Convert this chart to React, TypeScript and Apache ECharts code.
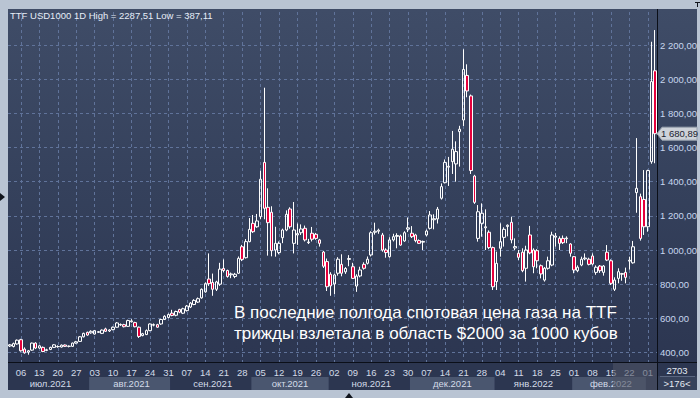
import React, { useEffect, useRef } from 'react';
import * as echarts from 'echarts';

const FONT = '"Liberation Sans", Arial, sans-serif';
const SMALL = 9.5;

const titleText = 'TTF USD1000 1D High = 2287,51 Low = 387,11';
const noteLines = [
  'В последние полгода спотовая цена газа на TTF',
  'трижды взлетала в область $2000 за 1000 кубов',
];
const monthNames = ['янв', 'фев', 'мар', 'апр', 'май', 'июн', 'июл', 'авг', 'сен', 'окт', 'ноя', 'дек'];
const yTickValues = [400, 600, 800, 1000, 1200, 1400, 1600, 1800, 2000, 2200];
const startDate = '2021-07-01';
const endDate = '2022-03-03';
const barCountText = '2703';
const visibleCountText = '>176<';

const openValues = [
  438, 435, 450, 475, 420, 402, 414, 455, 426, 430, 412, 418, 430, 434, 432, 444, 436, 436, 455, 465,
  492, 518, 515, 508, 518, 512, 538, 526, 534, 548, 561, 563, 553, 580, 575, 548, 499, 505, 528, 560,
  563, 567, 593, 605, 630, 618, 652, 630, 645, 666, 681, 695, 720, 755, 830, 810, 770, 800, 892, 880,
  855, 845, 864, 1019, 955, 1049, 1156, 1136, 1195, 1513, 1250, 1221, 1000, 985, 1072, 1117, 1240, 1039, 1088, 1101,
  1127, 1043, 1098, 1092, 1059, 988, 932, 858, 801, 864, 916, 872, 945, 902, 789, 848, 916, 922, 971, 1104,
  1110, 1088, 1000, 961, 1059, 1080, 1082, 1053, 1122, 1098, 1088, 1055, 1046, 1088, 1127, 1177, 1182, 1303, 1394, 1485,
  1517, 1504, 1693, 1761, 2022, 1902, 1433, 1068, 1156, 1130, 1104, 1014, 815, 1010, 1074, 1138, 1162, 1012, 981, 987,
  893, 1088, 1000, 996, 908, 824, 893, 912, 1075, 1068, 1068, 1066, 1035, 961, 879, 912, 948, 946, 965, 869,
  906, 869, 987, 937, 770, 834, 858, 869, 935, 925, 1336, 1312, 1296, 1136, 1517, 2049,
];
const closeValues = [
  445, 452, 472, 410, 398, 410, 455, 426, 439, 406, 416, 430, 445, 435, 443, 436, 437, 455, 463, 492,
  512, 502, 524, 528, 522, 531, 524, 532, 548, 573, 564, 551, 587, 585, 551, 494, 510, 528, 567, 563,
  548, 593, 612, 622, 617, 640, 636, 656, 672, 689, 705, 715, 770, 803, 803, 770, 813, 888, 880, 845,
  860, 858, 951, 945, 1049, 1121, 1107, 1170, 1414, 1244, 1160, 996, 1039, 1039, 1117, 1209, 1136, 1117, 1096, 1123,
  1059, 1047, 1063, 1068, 1039, 905, 785, 790, 854, 946, 864, 892, 950, 834, 847, 883, 893, 946, 1101, 1110,
  1116, 1000, 985, 1059, 1078, 1085, 1029, 1101, 1130, 1078, 1055, 1039, 1050, 1111, 1205, 1183, 1239, 1371, 1513, 1490,
  1590, 1576, 1707, 2057, 1931, 1465, 1279, 1224, 1215, 1136, 1014, 785, 922, 1049, 1121, 1145, 1059, 1020, 957, 879,
  1000, 983, 902, 937, 860, 893, 937, 1088, 1082, 1039, 1043, 1070, 981, 883, 899, 946, 953, 916, 918, 899,
  879, 906, 941, 805, 824, 873, 862, 840, 940, 1019, 1361, 1068, 1136, 1465, 1986, 1680.89,
];
const lowValues = [
  432, 430, 446, 405, 393, 387.11, 410, 420, 422, 402, 408, 414, 427, 428, 429, 432, 430, 433, 452, 462,
  488, 498, 510, 505, 514, 508, 520, 520, 530, 545, 556, 547, 550, 575, 547, 485, 495, 502, 525, 553,
  545, 562, 590, 600, 612, 612, 630, 625, 640, 660, 677, 690, 715, 750, 790, 732, 760, 790, 870, 838,
  835, 835, 860, 935, 950, 1045, 1100, 1130, 1180, 1180, 967, 963, 961, 975, 1040, 1110, 1125, 980, 1030, 1088,
  1050, 1035, 1050, 1060, 1020, 895, 760, 732, 742, 850, 846, 860, 905, 830, 755, 840, 885, 915, 962, 1090,
  1095, 990, 955, 955, 1050, 1010, 1025, 1048, 1105, 1070, 1045, 1035, 1000, 1080, 1120, 1121, 1155, 1295, 1390, 1375,
  1445, 1400, 1488, 1726, 1894, 1445, 1270, 1049, 1078, 1000, 1005, 766, 766, 961, 1020, 1080, 1039, 1000, 941, 870,
  815, 975, 864, 893, 834, 815, 885, 905, 1020, 1000, 1035, 1040, 961, 864, 870, 905, 940, 910, 910, 855,
  866, 850, 935, 795, 760, 805, 820, 805, 885, 920, 1218, 1055, 1088, 1107, 1505, 1508,
];
const highValues = [
  450, 458, 476, 480, 430, 415, 458, 460, 443, 435, 422, 434, 449, 442, 447, 447, 441, 458, 468, 496,
  516, 522, 530, 532, 526, 535, 545, 536, 552, 578, 570, 568, 592, 595, 580, 552, 515, 535, 570, 570,
  568, 597, 618, 628, 650, 645, 656, 662, 678, 695, 712, 722, 775, 810, 980, 862, 820, 925, 945, 885,
  868, 866, 962, 1030, 1064, 1187, 1205, 1211, 1464, 1950, 1361, 1256, 1136, 1050, 1125, 1232, 1250, 1281, 1155, 1150,
  1143, 1065, 1135, 1100, 1065, 995, 950, 870, 862, 958, 975, 900, 970, 925, 858, 902, 928, 962, 1110, 1160,
  1125, 1100, 1010, 1075, 1095, 1098, 1090, 1110, 1190, 1140, 1095, 1062, 1055, 1120, 1228, 1209, 1252, 1390, 1530, 1545,
  1697, 1636, 1727, 2175, 2087, 1910, 1440, 1263, 1273, 1238, 1115, 1020, 990, 1156, 1133, 1150, 1195, 1068, 1000, 1010,
  1025, 1141, 1010, 1005, 915, 900, 961, 1107, 1100, 1080, 1085, 1080, 1040, 965, 910, 961, 980, 955, 980, 910,
  912, 912, 1029, 945, 840, 893, 866, 897, 961, 1053, 1655, 1330, 1468, 1470, 2219, 2287.51,
];

function buildTradingDays(start: string, end: string): string[] {
  const out: string[] = [];
  const d = new Date(start + 'T00:00:00Z');
  const e = new Date(end + 'T00:00:00Z');
  while (d <= e) {
    const wd = d.getUTCDay();
    if (wd !== 0 && wd !== 6) out.push(d.toISOString().slice(0, 10));
    d.setUTCDate(d.getUTCDate() + 1);
  }
  return out;
}

const dates = buildTradingDays(startDate, endDate);

function fmtNum(v: number): string {
  const s = v.toFixed(2);
  const [ip, dp] = s.split('.');
  return ip.replace(/\B(?=(\d{3})+(?!\d))/g, ' ') + ',' + dp;
}

export default function App() {
  const ref = useRef<HTMLDivElement>(null);

  useEffect(() => {
    if (!ref.current) return;
    const chart = echarts.init(ref.current, undefined, { renderer: 'svg' });

    const isTue = dates.map((d) => new Date(d + 'T00:00:00Z').getUTCDay() === 2);
    const monthStart = new Set<number>();
    const monthMid = new Set<number>();
    const starts: number[] = [];
    dates.forEach((d, i) => {
      if (i === 0 || d.slice(0, 7) !== dates[i - 1].slice(0, 7)) starts.push(i);
    });
    starts.forEach((s, k) => {
      const e = k + 1 < starts.length ? starts[k + 1] : dates.length;
      monthStart.add(s);
      monthMid.add(Math.floor(s + (e - s) / 2));
    });
    const monthLabel = (d: string) => monthNames[parseInt(d.slice(5, 7), 10) - 1] + '.' + d.slice(0, 4);

    const candleData = dates.map((_, i) => [openValues[i], closeValues[i], lowValues[i], highValues[i]]);
    const gridLine = { color: '#60739a', type: [3, 3] as any, width: 1 };

    const option: any = {
      animation: false,
      backgroundColor: 'transparent',
      textStyle: { fontFamily: FONT },
      title: {
        text: titleText,
        left: 10,
        top: 10,
        padding: 0,
        textStyle: { color: '#e6edf7', fontSize: SMALL, fontWeight: 'normal', fontFamily: FONT },
      },
      grid: [
        { left: 8, right: 43, top: 12, bottom: 36 },
        { left: 8, right: 43, top: 377, bottom: 8 },
      ],
      xAxis: [
        {
          type: 'category',
          gridIndex: 0,
          data: dates,
          boundaryGap: true,
          axisLine: { show: false },
          axisTick: { show: false },
          axisLabel: {
            interval: (i: number) => isTue[i],
            formatter: (v: string) => v.slice(8, 10),
            color: '#d3dbe8',
            fontSize: SMALL,
            fontFamily: FONT,
            margin: 5,
          },
          splitLine: { show: true, interval: (i: number) => isTue[i], alignWithLabel: true, lineStyle: gridLine },
        },
        {
          type: 'category',
          gridIndex: 1,
          data: dates,
          boundaryGap: true,
          axisLine: { show: false },
          axisTick: { show: false },
          axisLabel: {
            inside: true,
            interval: (i: number) => monthMid.has(i),
            formatter: (v: string) => monthLabel(v),
            color: '#d3dbe8',
            fontSize: SMALL,
            fontFamily: FONT,
            margin: 2,
          },
          splitLine: { show: false },
          splitArea: {
            show: true,
            interval: (i: number) => monthStart.has(i),
            areaStyle: { color: ['#2c3650', '#4a566f'] },
          },
        },
      ],
      yAxis: [
        {
          type: 'value',
          gridIndex: 0,
          position: 'right',
          min: 344.4,
          max: 2393.2,
          minInterval: 200,
          maxInterval: 200,
          splitNumber: 10,
          axisLine: { show: false },
          axisTick: { show: false },
          axisLabel: {
            margin: 3,
            color: '#c8d6ee',
            fontSize: SMALL,
            fontFamily: FONT,
            formatter: (v: number) => (yTickValues.some((t) => Math.abs(t - v) < 1e-6) ? fmtNum(v) : ''),
          },
          splitLine: { show: true, showMinLine: false, showMaxLine: false, lineStyle: gridLine },
        },
        { type: 'value', gridIndex: 1, show: false },
      ],
      series: [
        {
          type: 'candlestick',
          xAxisIndex: 0,
          yAxisIndex: 0,
          data: candleData,
          barWidth: 3,
          itemStyle: {
            color: 'transparent',
            color0: '#e5003c',
            borderColor: '#ffffff',
            borderColor0: '#ffffff',
            borderColorDoji: '#ffffff',
            borderWidth: 1,
          },
        },
      ],
    };
    chart.setOption(option);

    const lastClose = closeValues[closeValues.length - 1];
    const py = chart.convertToPixel({ yAxisIndex: 0 }, lastClose) as number;

    const smallText = (text: string, x: number, y: number, fill: string, align = 'center') => ({
      type: 'text', z: 103, x, y,
      style: { text, fill, fontSize: SMALL, fontFamily: FONT, align, verticalAlign: 'middle' },
    });

    const graphics: any[] = [
      { type: 'rect', z: 100, shape: { x: 613, y: 363, width: 44, height: 27 }, style: { fill: 'rgba(78,84,100,0.6)' } },
      { type: 'rect', z: 100, shape: { x: 658, y: 363, width: 39, height: 13 }, style: { fill: '#2c3650' } },
      { type: 'rect', z: 100, shape: { x: 658, y: 376, width: 39, height: 14 }, style: { fill: '#36415a' } },
      { type: 'line', z: 101, shape: { x1: 657.5, y1: 9, x2: 657.5, y2: 390 }, style: { stroke: '#0b0f18', lineWidth: 1 } },
      { type: 'line', z: 101, shape: { x1: 8, y1: 362.5, x2: 697, y2: 362.5 }, style: { stroke: '#0b0f18', lineWidth: 1 } },
      { type: 'line', z: 101, shape: { x1: 660, y1: 376.5, x2: 695, y2: 376.5 }, style: { stroke: '#5a6680', lineWidth: 1 } },
      smallText(barCountText, 677, 370, '#e4eaf3'),
      smallText(visibleCountText, 677, 383, '#e4eaf3'),
      {
        type: 'text', z: 102, x: 234, y: 312,
        style: { text: noteLines[0], fill: '#ffffff', fontSize: 17, fontFamily: FONT, verticalAlign: 'middle' },
      },
      {
        type: 'text', z: 102, x: 234, y: 333,
        style: { text: noteLines[1], fill: '#ffffff', fontSize: 17, fontFamily: FONT, verticalAlign: 'middle' },
      },
      {
        type: 'polygon', z: 102,
        shape: { points: [[657, py], [662, py - 6.5], [697, py - 6.5], [697, py + 6.5], [662, py + 6.5]] },
        style: { fill: '#cdd2d9', stroke: '#9aa3b0', lineWidth: 1 },
      },
      smallText(fmtNum(lastClose), 661, py, '#1c2230', 'left'),
      { type: 'polygon', z: 102, shape: { points: [[0, 193], [5, 197], [0, 201]] }, style: { fill: '#10141c' } },
      { type: 'polygon', z: 102, shape: { points: [[345, 398], [349, 393], [353, 398]] }, style: { fill: '#10141c' } },
      { type: 'line', z: 102, shape: { x1: 695, y1: 2.5, x2: 700, y2: 2.5 }, style: { stroke: '#10141c', lineWidth: 1 } },
      { type: 'line', z: 102, shape: { x1: 697.5, y1: 2, x2: 697.5, y2: 7 }, style: { stroke: '#10141c', lineWidth: 1 } },
    ];
    chart.setOption({ graphic: { elements: graphics } });

    return () => chart.dispose();
  }, []);

  return (
    <div style={{ position: 'fixed', left: 0, top: 0, width: 700, height: 398, background: '#b9c4d3', overflow: 'hidden' }}>
      <div
        style={{
          position: 'absolute', left: 8, top: 9, width: 689, height: 353,
          background: 'linear-gradient(to bottom, #3f4c67 0%, #35415c 50%, #2c3651 100%)',
        }}
      />
      <div style={{ position: 'absolute', left: 8, top: 362, width: 689, height: 28, background: '#2c3650' }} />
      <div ref={ref} style={{ position: 'absolute', left: 0, top: 0, width: 700, height: 398 }} />
    </div>
  );
}
